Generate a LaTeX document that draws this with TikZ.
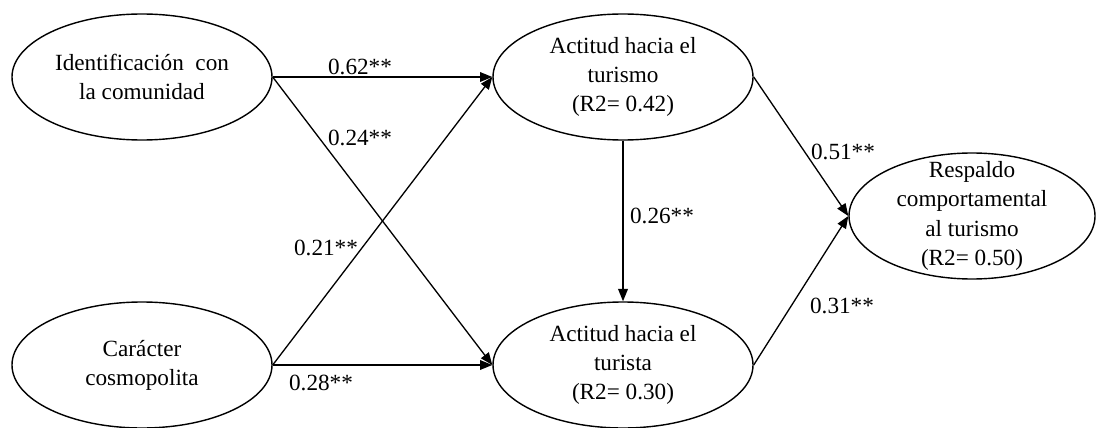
\documentclass[tikz,border=0pt]{standalone}
\usepackage{fontspec}
\setmainfont{Liberation Serif}
\usetikzlibrary{arrows.meta,shapes.geometric,positioning}

\begin{document}
\begin{tikzpicture}[
    latent/.style={ellipse,draw,line width=0.8pt,inner sep=0pt,
      minimum width=5.2cm,minimum height=2.52cm,align=center,
      font=\fontsize{13.2}{16.6}\selectfont},
    coef/.style={font=\fontsize{13.2}{16.6}\selectfont},
    link/.style={-{Triangle[length=7pt,width=5.5pt]},line width=0.75pt}]
  \useasboundingbox (0,0) rectangle (21.92,8.54);

  % constructos
  \node[latent] (ident) at (2.84,7.00) {Identificación\enspace con\\la comunidad};
  \node[latent] (cosmo) at (2.84,1.24) {Carácter\\cosmopolita};
  \node[latent] (actTur) at (12.46,7.00) {Actitud hacia el\\turismo\\(R2= 0.42)};
  \node[latent] (actTta) at (12.46,1.24) {Actitud hacia el\\turista\\(R2= 0.30)};
  \node[latent,minimum width=4.92cm,inner ysep=-7pt] (resp) at (19.44,4.22)
    {Respaldo\\comportamental\\al turismo\\(R2= 0.50)};

  % relaciones
  \draw[link] (ident.east) -- (actTur.west);
  \draw[link] (ident.east) -- (actTta.west);
  \draw[link] (cosmo.east) -- (actTur.west);
  \draw[link] (cosmo.east) -- (actTta.west);
  \draw[link] (actTur.south) -- (actTta.north);
  \draw[link] (actTur.east) -- (resp.west);
  \draw[link] (actTta.east) -- (resp.west);

  % coeficientes
  \node[coef] (c62) at (7.20,7.20) {0.62**};
  \node[coef] (c24) at (7.20,5.78) {0.24**};
  \node[coef] (c21) at (6.52,3.58) {0.21**};
  \node[coef] (c28) at (6.42,0.88) {0.28**};
  \node[coef] (c26) at (13.24,4.22) {0.26**};
  \node[coef] (c51) at (16.86,5.50) {0.51**};
  \node[coef] (c31) at (16.84,2.42) {0.31**};
\end{tikzpicture}
\end{document}
